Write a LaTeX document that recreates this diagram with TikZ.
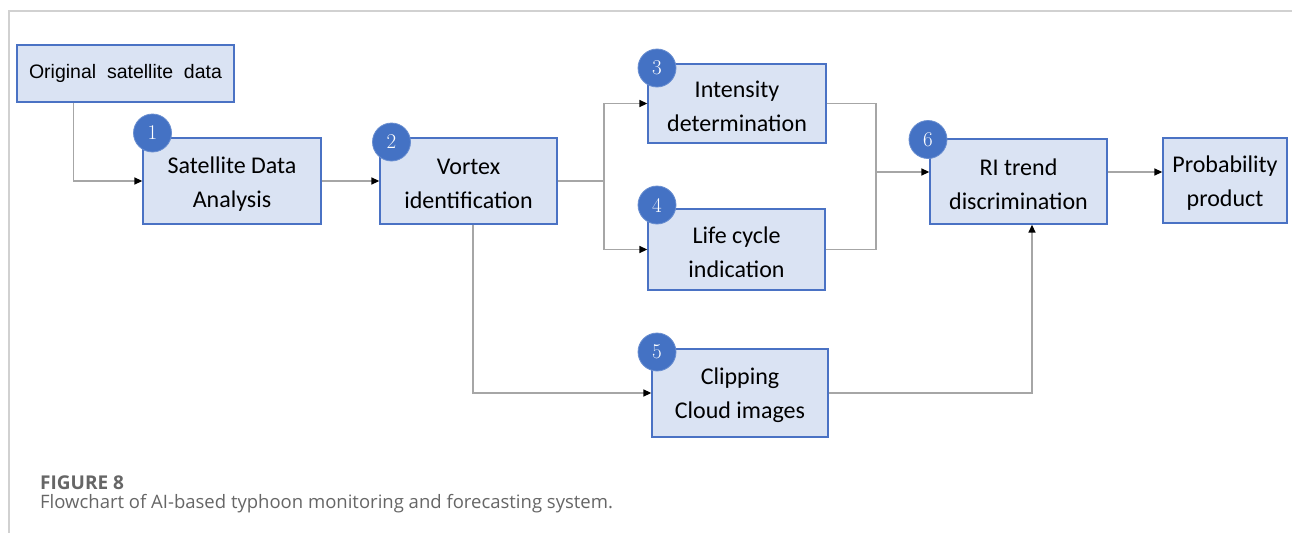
\documentclass[tikz,border=0pt]{standalone}
\usepackage{fontspec}
\setmainfont{Carlito}
\newfontfamily\capfont{Open Sans}
\newfontfamily\origfont{Liberation Sans}
\newfontfamily\numfont{Latin Modern Roman}
\usetikzlibrary{arrows.meta,calc}
\definecolor{boxfill}{HTML}{DAE3F3}
\definecolor{boxline}{HTML}{4A72C4}
\definecolor{circfill}{HTML}{4472C4}
\definecolor{linegray}{HTML}{A6A6A6}
\definecolor{capgray}{HTML}{666666}
\newcommand{\topstrut}{\rule{0pt}{22pt}}
\tikzset{
  box/.style={draw=boxline, fill=boxfill, line width=1.3pt, rectangle, align=center,
    inner sep=0pt, font=\fontsize{24}{34}\selectfont},
  numc/.style={circle, fill=circfill, draw=circfill!80!white, line width=0.8pt, minimum size=38pt,
    inner sep=0pt, text=white, font=\numfont\fontsize{21}{21}\selectfont},
  conn/.style={draw=linegray, line width=1.4pt},
  arr/.style={conn, -{Triangle[black,length=8pt,width=7pt]}},
  frameline/.style={draw=black!18, line width=1.5pt}
}
\begin{document}
\begin{tikzpicture}[x=1pt,y=-1pt]
\useasboundingbox (0,0) rectangle (1292,533);
\fill[white] (0,0) rectangle (1292,533);
\draw[frameline] (1292,11) -- (9,11) -- (9,533);

\node[box, font=\origfont\fontsize{19.5}{24}\selectfont, minimum width=217pt, minimum height=57pt] (orig) at (125.5,73.5) {Original\ \ satellite\ \ data};
\node[box, minimum width=178pt, minimum height=86pt] (b1) at (232,181) {\topstrut Satellite Data\\Analysis};
\node[box, minimum width=177pt, minimum height=86pt] (b2) at (468.5,181) {\topstrut Vortex\\identification};
\node[box, minimum width=178pt, minimum height=79pt] (b3) at (737,103.5) {\topstrut Intensity\\determination};
\node[box, minimum width=177pt, minimum height=81pt] (b4) at (736.5,249.5) {\topstrut Life cycle\\indication};
\node[box, minimum width=176pt, minimum height=88pt] (b5) at (740,393) {\topstrut Clipping\\Cloud images};
\node[box, minimum width=177pt, minimum height=85pt] (b6) at (1018.5,181.5) {\topstrut RI trend\\discrimination};
\node[box, minimum width=124pt, minimum height=85pt] (prob) at (1225,180.5) {\topstrut Probability\\product};

\node[numc] (c1) at (152.5,133) {1};
\node[numc] (c2) at (391.5,142) {2};
\node[numc] (c3) at (657,68) {3};
\node[numc] (c4) at (657,205) {4};
\node[numc] (c5) at (657,352) {5};
\node[numc] (c6) at (928,139.5) {6};

\draw[arr] ([xshift=57pt]orig.south west) |- (b1.west);
\draw[arr] (b1.east) -- (b2.west);
\coordinate (split) at (604,181);
\draw[conn] (b2.east) -- (split);
\draw[arr] (split) |- (b3.west);
\draw[arr] (split) |- (b4.west);
\coordinate (join) at (876,172);
\draw[conn] (b3.east) -| (join);
\draw[conn] (b4.east) -| (join);
\draw[arr] (join) -- (join -| b6.west);
\draw[arr] (b6.east |- join) -- (prob.west |- join);
\draw[arr] ([xshift=4.5pt]b2.south) |- (b5.west);
\draw[arr] (b5.east) -| ([xshift=13.5pt]b6.south);

\node[anchor=base west, inner sep=0pt, text=capgray, font=\capfont\fontsize{19}{18}\selectfont\bfseries] (fig) at (40,489) {FIGURE 8};
\node[anchor=base west, inner sep=0pt, text=capgray, font=\capfont\fontsize{18.5}{18}\selectfont] (cap) at (40,508) {Flowchart of AI-based typhoon monitoring and forecasting system.};
\end{tikzpicture}
\end{document}
